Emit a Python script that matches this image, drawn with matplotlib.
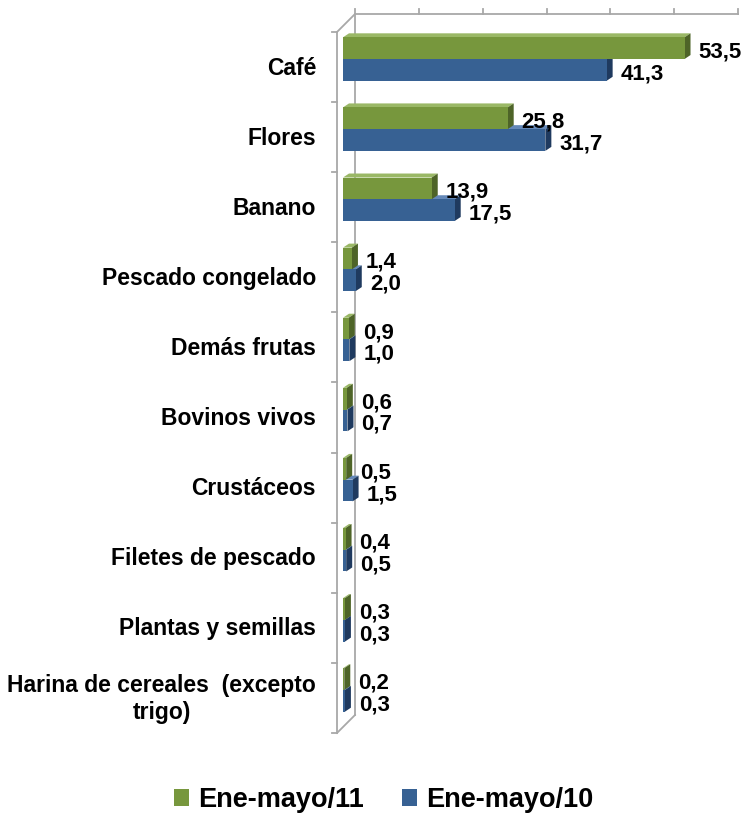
import matplotlib
matplotlib.use("Agg")
import matplotlib.pyplot as plt
from matplotlib.patches import Polygon, Patch
from matplotlib.lines import Line2D

plt.rcParams['font.family'] = ['Liberation Sans', 'DejaVu Sans']

categories = ["Café", "Flores", "Banano", "Pescado congelado", "Demás frutas",
              "Bovinos vivos", "Crustáceos", "Filetes de pescado",
              "Plantas y semillas", "Harina de cereales  (excepto\ntrigo)"]
ene_may_11 = [53.5, 25.8, 13.9, 1.4, 0.9, 0.6, 0.5, 0.4, 0.3, 0.2]
ene_may_10 = [41.3, 31.7, 17.5, 2.0, 1.0, 0.7, 1.5, 0.5, 0.3, 0.3]
series_names = ["Ene-mayo/11", "Ene-mayo/10"]

green, green_side, green_top = "#77973D", "#4E6428", "#9AB866"
blue, blue_side, blue_top = "#376193", "#1F3A5F", "#6488B8"
wall = "#A8A8A8"

W, H = 742, 815
fig = plt.figure(figsize=(W / 100, H / 100), dpi=100)
ax_l, ax_r, ax_t, ax_b = 343, 726, 24, 725
ax = fig.add_axes([ax_l / W, 1 - ax_b / H, (ax_r - ax_l) / W, (ax_b - ax_t) / H])
xmax = 60
n = len(categories)
ax.set_xlim(0, xmax)
ax.set_ylim(n - 0.5, -0.5)
ax.axis("off")

# pixel -> data unit conversion
ux = xmax / (ax_r - ax_l)
uy = n / (ax_b - ax_t)

def px(dx, dy):
    # dx right, dy down (image pixels) -> data offsets
    return dx * ux, dy * uy

h = 0.31
bdx, bdy = px(6, -4)

def bar3d(v, yc, front, side, top, z):
    y0, y1 = yc - h / 2, yc + h / 2
    ax.add_patch(Polygon([(0, y0), (v, y0), (v + bdx, y0 + bdy), (bdx, y0 + bdy)],
                         closed=True, facecolor=top, edgecolor="none", zorder=z))
    ax.add_patch(Polygon([(v, y0), (v, y1), (v + bdx, y1 + bdy), (v + bdx, y0 + bdy)],
                         closed=True, facecolor=side, edgecolor="none", zorder=z))
    ax.barh([yc], [v], height=h, color=front, zorder=z + 0.5, linewidth=0)

lbl_dx, _ = px(14, 0)
_, lbl_dy = px(0, 4)
fmt = lambda v: f"{v:.1f}".replace(".", ",")
for i in range(n):
    g, b = ene_may_11[i], ene_may_10[i]
    yg, yb = i - h / 2, i + h / 2
    bar3d(b, yb, blue, blue_side, blue_top, 2)
    bar3d(g, yg, green, green_side, green_top, 3)
    ax.text(g + lbl_dx, yg + lbl_dy, fmt(g), ha="left", va="center",
            fontsize=16, fontweight="bold", zorder=5)
    ax.text(b + lbl_dx, yb + lbl_dy, fmt(b), ha="left", va="center",
            fontsize=16, fontweight="bold", zorder=5)

# walls (front edge and back edge of the left wall)
fdx, fdy = px(-6, 8)
kdx, kdy = px(12, -10)
ytop, ybot = -0.5, n - 0.5
lk = dict(color=wall, lw=1.3, clip_on=False, zorder=1)
ax.add_line(Line2D([fdx, fdx], [ytop + fdy, ybot + fdy], **lk))
ax.add_line(Line2D([kdx, kdx], [ytop + kdy, ybot + kdy], **lk))
ax.add_line(Line2D([fdx, kdx], [ytop + fdy, ytop + kdy], **lk))
ax.add_line(Line2D([fdx, kdx], [ybot + fdy, ybot + kdy], **lk))
tdx, _ = px(-5, 0)
for k in range(n + 1):
    yk = ytop + k + fdy
    ax.add_line(Line2D([fdx + tdx, fdx], [yk, yk], **lk))
# top axis line on back wall with ticks
ax.add_line(Line2D([kdx, xmax + kdx], [ytop + kdy, ytop + kdy], **lk))
_, tdy = px(0, -5)
for t in range(0, xmax + 1, 10):
    ax.add_line(Line2D([t + kdx, t + kdx], [ytop + kdy, ytop + kdy + tdy], **lk))

# category labels
cdx, cdy = px(-27, 9)
for i, c in enumerate(categories):
    ax.text(cdx, i + cdy, c, ha="right", va="center", multialignment="center",
            fontsize=16.5, fontweight="bold", clip_on=False, linespacing=1.2)

handles = [Patch(facecolor=green, edgecolor="none"), Patch(facecolor=blue, edgecolor="none")]
fig.legend(handles, series_names, loc="center", bbox_to_anchor=(384 / W, 1 - 800 / H),
           ncol=2, frameon=False, prop=dict(size=19.5, weight="bold"),
           handlelength=0.55, handleheight=0.55, handletextpad=0.35, columnspacing=1.4,
           borderpad=0, borderaxespad=0)

fig.savefig("out.png", dpi=100)
